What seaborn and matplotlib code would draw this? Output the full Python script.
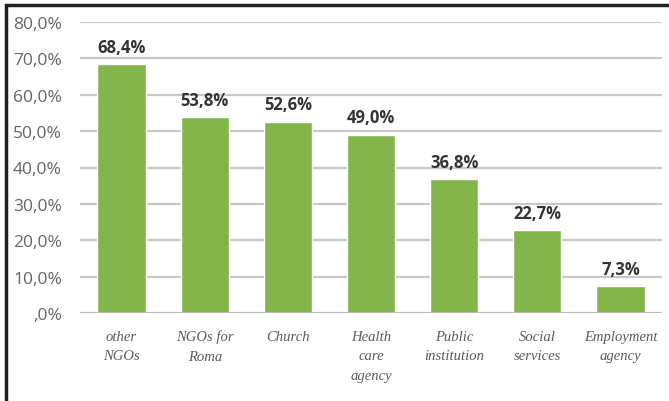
import matplotlib
matplotlib.use("Agg")
import matplotlib.pyplot as plt
import seaborn as sns
import pandas as pd
from matplotlib.patches import Rectangle

categories = ["other\nNGOs", "NGOs for\nRoma", "Church", "Health\ncare\nagency",
              "Public\ninstitution", "Social\nservices", "Employment\nagency"]
values = [68.4, 53.8, 52.6, 49.0, 36.8, 22.7, 7.3]
value_labels = ["68,4%", "53,8%", "52,6%", "49,0%", "36,8%", "22,7%", "7,3%"]
y_ticks = [0, 10, 20, 30, 40, 50, 60, 70, 80]
y_tick_labels = [",0%", "10,0%", "20,0%", "30,0%", "40,0%", "50,0%", "60,0%", "70,0%", "80,0%"]

sns.set_theme(style="white")
plt.rcParams["font.family"] = ["Open Sans", "DejaVu Sans"]

df = pd.DataFrame({"source": categories, "share": values})

fig = plt.figure(figsize=(6.69, 4.02), dpi=100)
ax = fig.add_axes([80 / 669, 88 / 402, 582 / 669, 291 / 402])

sns.barplot(data=df, x="source", y="share", color="#84b54b", saturation=1,
            width=0.58, ax=ax, zorder=3)

ax.set_ylim(0, 80)
ax.set_xlim(-0.5, 6.5)
ax.set_yticks(y_ticks)
ax.set_yticklabels(y_tick_labels, color="#656565", fontsize=12.5)
ax.tick_params(axis="y", length=0, pad=13)
ax.tick_params(axis="x", length=0, pad=12)
for lbl in ax.get_xticklabels():
    lbl.set_fontfamily(["Liberation Serif", "DejaVu Serif"])
    lbl.set_fontstyle("italic")
    lbl.set_fontsize(10.5)
    lbl.set_color("#5a5a5a")
    lbl.set_linespacing(1.65)
    lbl.set_verticalalignment("top")

ax.set_xlabel("")
ax.set_ylabel("")
for s in ax.spines.values():
    s.set_visible(False)

ax.yaxis.grid(True, color="#c8c8c8", linewidth=1.6)
ax.set_axisbelow(True)
ax.axhline(0, color="#b8b8b8", linewidth=1.8, zorder=4)

for i, (v, t) in enumerate(zip(values, value_labels)):
    ax.annotate(t, (i, v), xytext=(0, 6), textcoords="offset points",
                ha="center", va="bottom", fontsize=12, fontweight="bold",
                color="#333333")

# outer frame
fig.patches.append(Rectangle((6 / 669, -0.05), 1.5, 1.05 - 6 / 402,
                             transform=fig.transFigure, fill=False,
                             edgecolor="#222222", linewidth=2.5))

fig.savefig("out.png", dpi=100)
